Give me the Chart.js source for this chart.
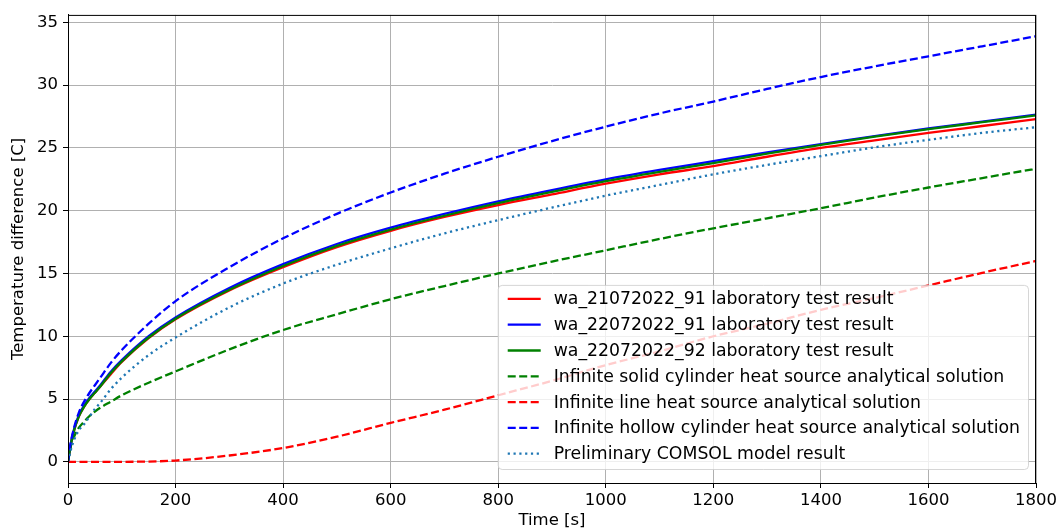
<!DOCTYPE html>
<html>
<head>
<meta charset="utf-8">
<script src="https://cdn.jsdelivr.net/npm/chart.js@4.4.0/dist/chart.umd.min.js"></script>
<style>
  html, body { margin: 0; padding: 0; background: #fff; }
  canvas { display: block; }
</style>
</head>
<body>
<canvas id="myChart" width="1061" height="532"></canvas>
<script>
// time axis [s]
const time = [0, 5, 10, 20, 30, 40, 50, 60, 80, 100, 150, 200, 300, 400, 500, 600, 700, 800, 900,
  1000, 1100, 1200, 1300, 1400, 1500, 1600, 1700, 1800];

// lab tests
const wa21072022_91 = [0, 1.3, 2.3, 3.6, 4.4, 5.0, 5.5, 6.0, 7.0, 7.95, 9.85, 11.35, 13.65, 15.5, 17.1, 18.4,
  19.5, 20.45, 21.3, 22.15, 22.9, 23.55, 24.3, 25.0, 25.6, 26.2, 26.75, 27.3];
const wa22072022_91 = [0, 1.4, 2.4, 3.7, 4.5, 5.1, 5.6, 6.1, 7.2, 8.1, 10.0, 11.5, 13.85, 15.75, 17.35, 18.65,
  19.75, 20.75, 21.65, 22.5, 23.25, 23.95, 24.65, 25.3, 25.95, 26.55, 27.1, 27.65];
const wa22072022_92 = [0, 1.3, 2.3, 3.6, 4.4, 5.0, 5.5, 6.0, 7.1, 8.0, 9.9, 11.4, 13.7, 15.6, 17.2, 18.5,
  19.6, 20.6, 21.5, 22.35, 23.1, 23.8, 24.55, 25.25, 25.9, 26.5, 27.05, 27.6];

// analytical solutions
const solidCylinder = [0, 1.2, 1.85, 2.7, 3.2, 3.65, 4.0, 4.3, 4.8, 5.3, 6.3, 7.2, 8.95, 10.5, 11.75, 12.95,
  14.0, 15.0, 15.95, 16.85, 17.75, 18.6, 19.4, 20.2, 21.05, 21.85, 22.6, 23.35];
const lineSource = [0, 0, 0, 0, 0, 0, 0, 0, 0, 0, 0.02, 0.1, 0.5, 1.1, 2.0, 3.1,
  4.15, 5.3, 6.45, 7.7, 8.8, 10.0, 11.0, 12.1, 13.05, 14.05, 15.05, 16.0];
const hollowCylinder = [0, 1.5, 2.5, 3.9, 4.8, 5.5, 6.1, 6.7, 7.9, 8.9, 11.0, 12.8, 15.5, 17.8, 19.75, 21.45,
  22.95, 24.3, 25.55, 26.7, 27.75, 28.7, 29.7, 30.65, 31.5, 32.3, 33.1, 33.9];

// COMSOL
const comsol = [0, 0.9, 1.6, 2.5, 3.0, 3.6, 4.2, 4.7, 5.8, 6.7, 8.5, 9.9, 12.3, 14.2, 15.7, 17.0,
  18.2, 19.25, 20.25, 21.2, 22.05, 22.9, 23.65, 24.35, 25.05, 25.65, 26.2, 26.65];

const FONT = "DejaVu Sans";
const ctx = document.getElementById("myChart");

function pts(arr) {
  return time.map(function (t, i) {
    return { x: t, y: arr[i] };
  });
}

function series(label, arr, color, dash, idx) {
  return {
    label: label,
    data: pts(arr),
    borderColor: color,
    backgroundColor: color,
    borderWidth: 2.3,
    borderDash: dash,
    pointRadius: 0,
    fill: false,
    cubicInterpolationMode: "monotone",
    order: 10 - idx, // later series on top, like matplotlib
  };
}

const DASH = [8, 3.5];
const DOT = [2.2, 3.6];

const datasets = [
  series("wa_21072022_91 laboratory test result", wa21072022_91, "#ff0000", [], 0),
  series("wa_22072022_91 laboratory test result", wa22072022_91, "#0000ff", [], 1),
  series("wa_22072022_92 laboratory test result", wa22072022_92, "#008000", [], 2),
  series("Infinite solid cylinder heat source analytical solution", solidCylinder, "#008000", DASH, 3),
  series("Infinite line heat source analytical solution", lineSource, "#ff0000", DASH, 4),
  series("Infinite hollow cylinder heat source analytical solution", hollowCylinder, "#0000ff", DASH, 5),
  series("Preliminary COMSOL model result", comsol, "#1f77b4", DOT, 6),
];

// top/right spines + legend box in the lower right corner
const boxLegend = {
  id: "boxLegend",
  afterDraw(chart) {
    const c = chart.ctx;
    const area = chart.chartArea;
    c.save();
    c.strokeStyle = "#000";
    c.lineWidth = 1;
    c.strokeRect(area.left + 0.5, area.top + 0.5, area.right - area.left - 1, area.bottom - area.top);

    c.font = "17.3px '" + FONT + "'";
    let maxW = 0;
    chart.data.datasets.forEach(function (d) {
      maxW = Math.max(maxW, c.measureText(d.label).width);
    });
    const rowH = 25.8;
    const w = 56 + maxW + 8;
    const h = rowH * 7 + 3.5;
    const right = area.right - 8;
    const bottom = area.bottom - 14;
    const left = right - w;
    const top = bottom - h;

    c.beginPath();
    c.roundRect(left + 0.5, top + 0.5, w, h, 4);
    c.fillStyle = "rgba(255,255,255,0.8)";
    c.fill();
    c.strokeStyle = "rgba(204,204,204,0.8)";
    c.stroke();

    chart.data.datasets.forEach(function (d, i) {
      const y = top + 14 + i * rowH;
      c.beginPath();
      c.setLineDash(d.borderDash);
      c.strokeStyle = d.borderColor;
      c.lineWidth = d.borderWidth;
      c.moveTo(left + 10, y);
      c.lineTo(left + 43, y);
      c.stroke();
      c.setLineDash([]);
      c.fillStyle = "#000";
      c.textBaseline = "middle";
      c.textAlign = "left";
      c.fillText(d.label, left + 56, y + 1);
    });
    c.restore();
  },
};

new Chart(ctx, {
  type: "line",
  data: { datasets: datasets },
  plugins: [boxLegend],
  options: {
    responsive: false,
    animation: false,
    maintainAspectRatio: false,
    layout: { padding: { top: 7, right: 25, left: 0, bottom: 0 } },
    plugins: {
      legend: { display: false },
      tooltip: { enabled: false },
    },
    scales: {
      x: {
        type: "linear",
        min: 0,
        max: 1800,
        ticks: {
          stepSize: 200,
          color: "#000",
          padding: 3,
          maxRotation: 0,
          font: { family: FONT, size: 16.5 },
          callback: function (v) {
            return String(v);
          },
        },
        grid: { color: "#b0b0b0", lineWidth: 1, tickLength: 5, tickColor: "#000" },
        border: { color: "#000", width: 1 },
        title: {
          display: true,
          text: "Time [s]",
          color: "#000",
          font: { family: FONT, size: 16.5 },
          padding: { top: 0, bottom: 1 },
        },
        afterFit: function (scale) {
          scale.height = 49;
        },
      },
      y: {
        min: -1.69,
        max: 35.6,
        ticks: {
          stepSize: 5,
          includeBounds: false,
          color: "#000",
          padding: 5,
          font: { family: FONT, size: 16.5 },
        },
        grid: { color: "#b0b0b0", lineWidth: 1, tickLength: 5, tickColor: "#000" },
        border: { color: "#000", width: 1 },
        title: {
          display: true,
          text: "Temperature difference [C]",
          color: "#000",
          font: { family: FONT, size: 16.5 },
          padding: { top: 9, bottom: 0 },
        },
        afterFit: function (scale) {
          scale.width = 68;
        },
      },
    },
  },
});
</script>
</body>
</html>
